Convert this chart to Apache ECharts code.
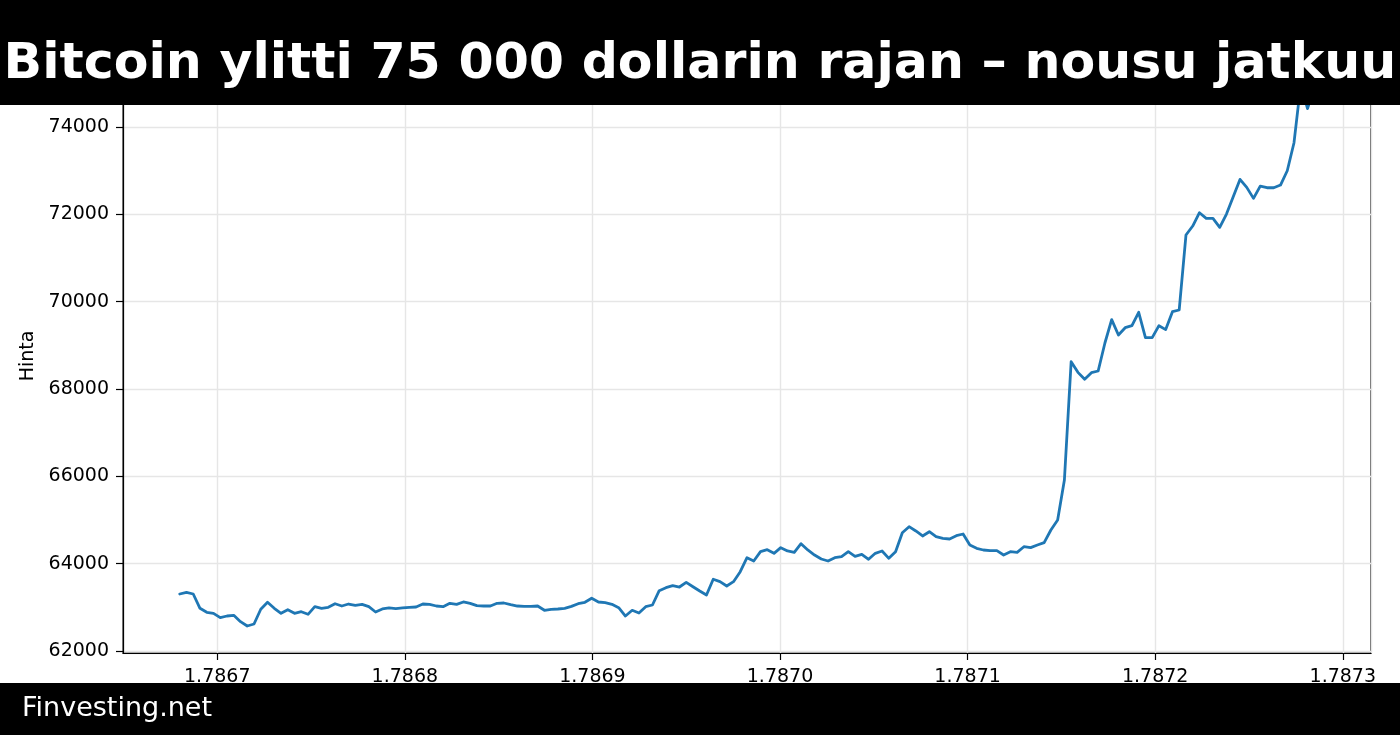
<!DOCTYPE html>
<html>
<head>
<meta charset="utf-8">
<script src="https://cdn.jsdelivr.net/npm/echarts@6/dist/echarts.min.js"></script>
<style>
  html, body { margin: 0; padding: 0; background: #fff; }
  #chart { width: 1400px; height: 735px; }
</style>
</head>
<body>
<div id="chart"></div>
<script>
// ---- data ----
const titleText = 'Bitcoin ylitti 75 000 dollarin rajan – nousu jatkuu';
const footerText = 'Finvesting.net';
const yAxisName = 'Hinta';
// hourly samples, unix seconds
const startTime = 1786680000;
const stepSeconds = 3600;
const prices = [
  63305, 63344, 63305, 62978, 62886, 62863, 62763, 62801, 62817, 62671,
  62572, 62618, 62955, 63115, 62978, 62863, 62946, 62863, 62900, 62840,
  63015, 62978, 63000, 63083, 63030, 63076, 63046, 63069, 63015, 62893,
  62962, 62985, 62969, 62985, 63000, 63007, 63076, 63069, 63030, 63015,
  63092, 63069, 63122, 63092, 63038, 63030, 63030, 63092, 63099, 63061,
  63030, 63023, 63023, 63030, 62932, 62955, 62962, 62978, 63023, 63083,
  63115, 63207, 63122, 63106, 63069, 62992, 62801, 62932, 62870, 63015,
  63053, 63381, 63450, 63495, 63465, 63573, 63472, 63374, 63282, 63642,
  63587, 63489, 63587, 63816, 64137, 64061, 64274, 64320, 64237, 64366,
  64290, 64260, 64457, 64313, 64198, 64107, 64061, 64137, 64160, 64274,
  64168, 64214, 64100, 64237, 64290, 64122, 64274, 64709, 64847, 64748,
  64634, 64732, 64618, 64580, 64565, 64640, 64679, 64427, 64352, 64313,
  64297, 64297, 64198, 64274, 64260, 64388, 64366, 64427, 64480, 64771,
  65000, 65916, 68625, 68381, 68221, 68373, 68412, 69053, 69588, 69236,
  69404, 69450, 69756, 69176, 69176, 69450, 69360, 69770, 69809, 71526,
  71732, 72037, 71908, 71908, 71702, 72006, 72403, 72800, 72617, 72365,
  72647, 72609, 72609, 72670, 72998, 73640, 74980, 74420, 74900
];

const points = prices.map((p, i) => [startTime + i * stepSeconds, p]);

const chart = echarts.init(document.getElementById('chart'), null, { renderer: 'canvas' });
const FONT = '"DejaVu Sans", sans-serif';

chart.setOption({
  animation: false,
  backgroundColor: '#ffffff',
  grid: {
    left: 123, right: 29, top: 59, bottom: 82,
    show: true, borderColor: '#000', borderWidth: 1.2, backgroundColor: '#ffffff'
  },
  xAxis: {
    type: 'value',
    min: 1786649760,
    max: 1787315040,
    splitNumber: 6,
    axisLine: { show: true, lineStyle: { color: '#000', width: 1.2 } },
    axisTick: { show: true, length: 7, lineStyle: { color: '#000', width: 1.2 } },
    axisLabel: {
      show: true, showMinLabel: false, showMaxLabel: false,
      color: '#000', fontFamily: FONT, fontSize: 19, margin: 15,
      formatter: v => (v / 1e9).toFixed(4)
    },
    splitLine: { show: true, lineStyle: { color: '#e6e6e6', width: 1.4 } }
  },
  yAxis: {
    type: 'value',
    min: 61954,
    max: 75557,
    splitNumber: 7,
    name: yAxisName,
    nameLocation: 'middle',
    nameGap: 75,
    nameRotate: 90,
    nameTextStyle: { color: '#000', fontFamily: FONT, fontSize: 19 },
    axisLine: { show: true, lineStyle: { color: '#000', width: 1.2 } },
    axisTick: { show: true, length: 7, lineStyle: { color: '#000', width: 1.2 } },
    axisLabel: {
      show: true, showMinLabel: false, showMaxLabel: false,
      color: '#000', fontFamily: FONT, fontSize: 19, margin: 14,
      formatter: v => String(Math.round(v))
    },
    splitLine: { show: true, lineStyle: { color: '#e6e6e6', width: 1.4 } }
  },
  series: [{
    type: 'line',
    data: points,
    showSymbol: false,
    symbol: 'none',
    lineStyle: { color: '#1f77b4', width: 2.8, join: 'round', cap: 'round' },
    z: 3
  }],
  graphic: [
    {
      type: 'rect', z: 100, zlevel: 0,
      shape: { x: 0, y: 0, width: 1400, height: 105 },
      style: { fill: '#000' }
    },
    {
      type: 'text', z: 101,
      x: 700, y: 65,
      style: {
        text: titleText, fill: '#fff',
        font: 'bold 50.6px "DejaVu Sans", sans-serif',
        textAlign: 'center', textVerticalAlign: 'middle'
      }
    },
    {
      type: 'rect', z: 100,
      shape: { x: 0, y: 683, width: 1400, height: 52 },
      style: { fill: '#000' }
    },
    {
      type: 'text', z: 101,
      x: 22, y: 709,
      style: {
        text: footerText, fill: '#fff',
        font: '27px "DejaVu Sans", sans-serif',
        textAlign: 'left', textVerticalAlign: 'middle'
      }
    }
  ]
});
</script>
</body>
</html>
